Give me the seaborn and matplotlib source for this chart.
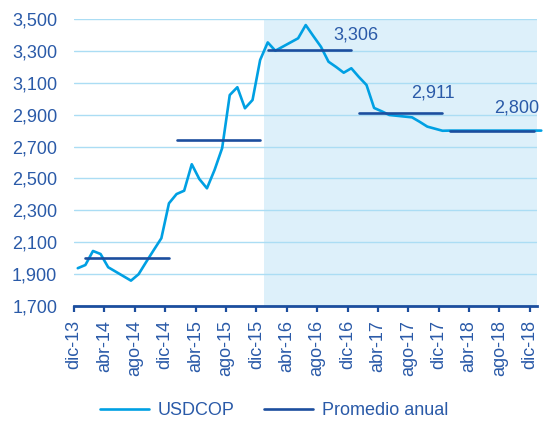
import numpy as np
import pandas as pd
import matplotlib
matplotlib.use("Agg")
import matplotlib.pyplot as plt
from matplotlib.lines import Line2D
from matplotlib.ticker import FuncFormatter
import seaborn as sns

# Monthly USDCOP, dic-13 through ene-19 (one value per month)
usdcop = [
    1937, 1957, 2045, 2026, 1943, 1915, 1887, 1859, 1899, 1976, 2051, 2125,  # dic-13 .. nov-14
    2344, 2402, 2423, 2589, 2496, 2438, 2553, 2690, 3023, 3072, 2940, 2992,  # dic-14 .. nov-15
    3243, 3353, 3301, 3327, 3353, 3379, 3462, 3393, 3326, 3232, 3199, 3163,  # dic-15 .. nov-16
    3191, 3136, 3086, 2942, 2921, 2898, 2893, 2888, 2883, 2855, 2825, 2812,  # dic-16 .. nov-17
    2799, 2800, 2800, 2800, 2800, 2800, 2800, 2800, 2800, 2800, 2800, 2800,  # dic-17 .. nov-18
    2800, 2800,                                                              # dic-18, ene-19
]

# Annual averages (year, value) and which ones carry a value label
anios = [2014, 2015, 2016, 2017, 2018]
promedios = [2000, 2743, 3306, 2911, 2800]
etiquetados = [2016, 2017, 2018]

# Category axis labels every four months
tick_labels = ["dic-13", "abr-14", "ago-14", "dic-14", "abr-15", "ago-15", "dic-15",
               "abr-16", "ago-16", "dic-16", "abr-17", "ago-17", "dic-17",
               "abr-18", "ago-18", "dic-18"]

# Value axis
y_ticks = [1700, 1900, 2100, 2300, 2500, 2700, 2900, 3100, 3300, 3500]

# Forecast period starts with ene-16 (month index 25 counted from dic-13)
inicio_pronostico = 25

LIGHT = "#00A0E3"
DARK = "#1C4E9E"
TEXT = "#2A5AA8"
GRID = "#ABDDF4"
SHADE = "#DDF0FA"

sns.set_theme(style="white")
plt.rcParams["font.family"] = ["Liberation Sans", "DejaVu Sans"]

n = len(usdcop)
df = pd.DataFrame({"pos": np.arange(n) + 0.5, "valor": usdcop})

# Each annual average spans the 12 months ene..dic of its year
rows = []
for anio, prom in zip(anios, promedios):
    primero = (anio - 2014) * 12 + 1
    for k in range(primero, primero + 12):
        rows.append({"anio": anio, "pos": k + 0.5, "valor": prom})
df_prom = pd.DataFrame(rows)

fig = plt.figure(figsize=(5.44, 4.21), dpi=100)
ax = fig.add_axes([0.136, 0.2732, 0.988 - 0.136, 0.9549 - 0.2732])

n_cat = len(tick_labels) * 4 - 3
ax.set_xlim(0, n_cat)
ax.set_ylim(y_ticks[0], y_ticks[-1])

ax.axvspan(inicio_pronostico, n_cat, color=SHADE, lw=0, zorder=0)
ax.set_yticks(y_ticks)
ax.grid(axis="y", color=GRID, lw=1.0, zorder=1)
ax.grid(axis="x", visible=False)
ax.set_axisbelow(True)

sns.lineplot(data=df, x="pos", y="valor", color=LIGHT, lw=1.9, ax=ax,
             clip_on=False, zorder=3)
sns.lineplot(data=df_prom, x="pos", y="valor", units="anio", estimator=None,
             color=DARK, lw=1.9, ax=ax, zorder=4)

# Value labels above the end of the labelled average lines
desplazamientos = {2016: (3, 11), 2017: (-7, 14), 2018: (-12, 16)}
for anio, prom in zip(anios, promedios):
    if anio in etiquetados:
        fin = df_prom.loc[df_prom["anio"] == anio, "pos"].max()
        ax.annotate(f"{prom:,.0f}", (fin, prom), xytext=desplazamientos[anio],
                    textcoords="offset points", ha="center", va="center",
                    color=TEXT, fontsize=13)

ax.set_xticks(np.arange(0, n_cat, 4))
ax.set_xticklabels(tick_labels, rotation=90)
ax.yaxis.set_major_formatter(FuncFormatter(lambda v, _: f"{v:,.0f}"))
ax.set_xlabel("")
ax.set_ylabel("")

for s in ["left", "right", "top"]:
    ax.spines[s].set_visible(False)
ax.spines["bottom"].set_color(DARK)
ax.spines["bottom"].set_linewidth(2.0)
ax.spines["bottom"].set_zorder(5)

ax.tick_params(axis="x", colors=DARK, labelcolor=TEXT, labelsize=13,
               direction="out", length=4, width=1.6, pad=6, bottom=True)
ax.tick_params(axis="y", labelcolor=TEXT, labelsize=13, length=0, pad=12)

handles = [Line2D([], [], color=LIGHT, lw=1.9), Line2D([], [], color=DARK, lw=1.9)]
fig.legend(handles, ["USDCOP", "Promedio anual"], loc="center",
           bbox_to_anchor=(0.504, 0.0245), ncol=2, frameon=False,
           fontsize=13, labelcolor=TEXT, handlelength=2.7, handletextpad=0.5,
           columnspacing=1.6)

fig.savefig("out.png", dpi=100)
